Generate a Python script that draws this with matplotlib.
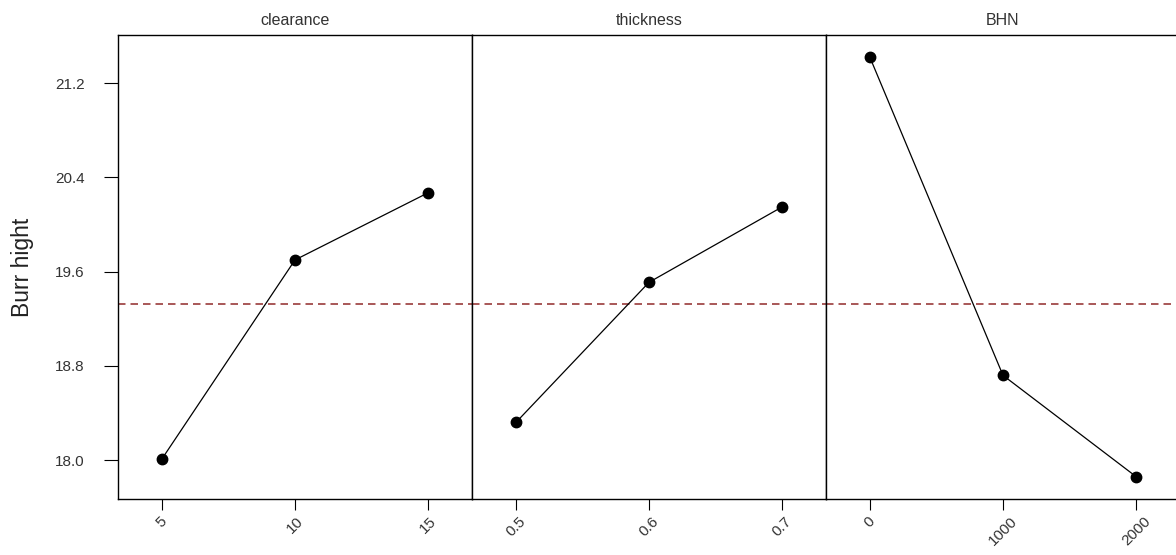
import matplotlib.pyplot as plt

# main effects for burr height
factors = ['clearance', 'thickness', 'BHN']
levels = [[5, 10, 15], [0.5, 0.6, 0.7], [0, 1000, 2000]]
level_labels = [['5', '10', '15'], ['0.5', '0.6', '0.7'], ['0', '1000', '2000']]
means = [[18.01, 19.70, 20.27],
         [18.32, 19.51, 20.15],
         [21.42, 18.72, 17.86]]
grand_mean = 19.33
y_ticks = [18.0, 18.8, 19.6, 20.4, 21.2]

plt.rcParams['font.family'] = ['Liberation Sans', 'DejaVu Sans']

fig = plt.figure(figsize=(11.76, 5.55), dpi=100)

# panel layout in figure fractions (each panel 354 px wide)
left = 118 / 1176
width = 354 / 1176
bottom = 56 / 555
height = 464 / 555

for i, name in enumerate(factors):
    ax = fig.add_axes([left + i * width, bottom, width, height])
    x = levels[i]
    step = x[1] - x[0]
    ax.plot(x, means[i], color='black', linewidth=0.9, marker='o',
            markersize=7.5, markerfacecolor='black', zorder=3)
    ax.axhline(grand_mean, color='#9a3b3b', linestyle=(0, (4.5, 3)),
               linewidth=1.2, zorder=2)
    ax.set_xlim(x[0] - 0.33 * step, x[-1] + 0.33 * step)
    ax.set_ylim(17.67, 21.61)
    ax.set_xticks(x)
    ax.set_xticklabels(level_labels[i], rotation=45, ha='center',
                       fontsize=11, color='#333333')
    ax.tick_params(axis='x', direction='out', length=8, width=0.8, pad=3)
    ax.set_title(name, fontsize=11.5, color='#333333', pad=7)
    for s in ax.spines.values():
        s.set_linewidth(1.0)
    if i == 0:
        ax.set_yticks(y_ticks)
        ax.set_yticklabels(['%.1f' % v for v in y_ticks], fontsize=11,
                           color='#333333')
        ax.tick_params(axis='y', direction='out', length=10, width=0.8, pad=14)
        ax.set_ylabel('Burr hight', fontsize=16.5, color='#222222', labelpad=15)
    else:
        ax.set_yticks([])

plt.savefig('out.png', dpi=100)
